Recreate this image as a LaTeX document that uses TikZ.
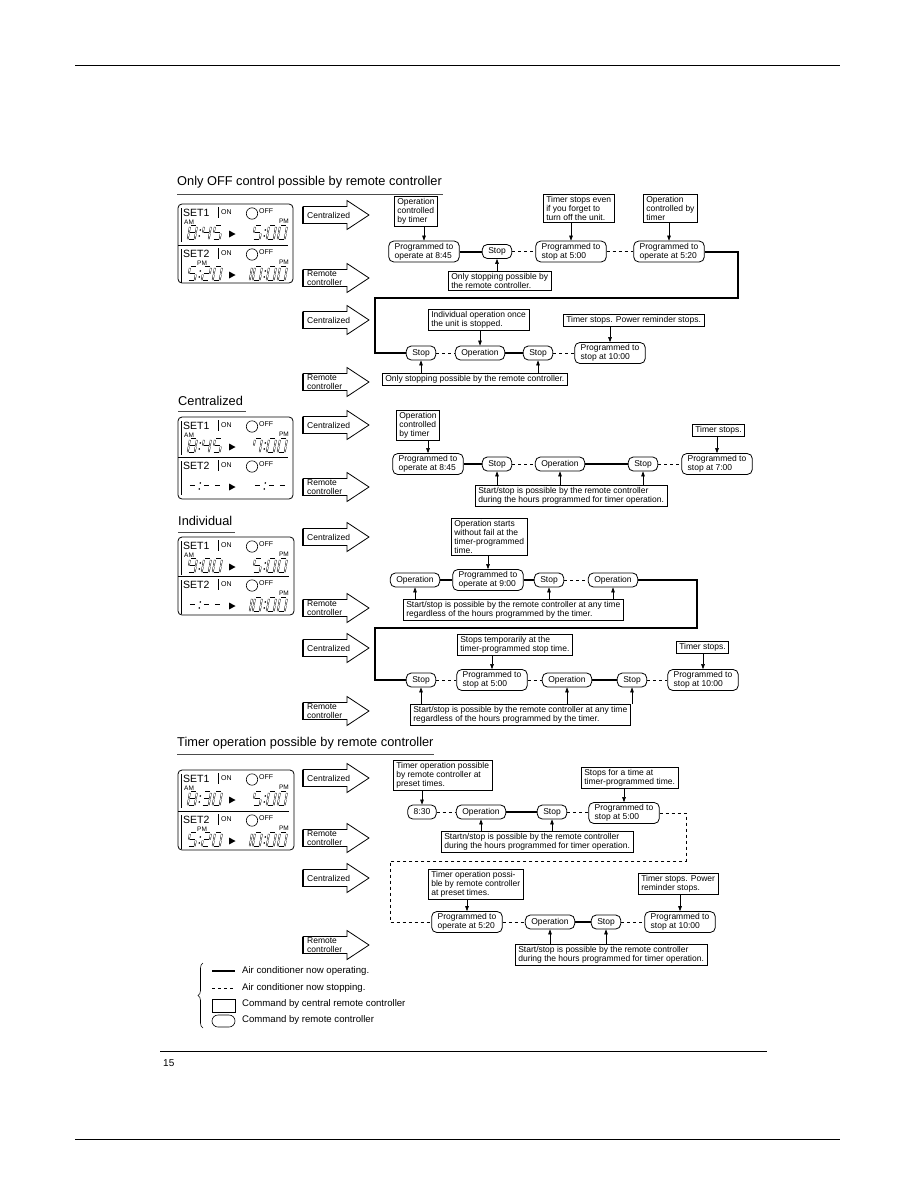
\documentclass[tikz,border=0pt]{standalone}
\usepackage{fontspec}
\setmainfont{Liberation Sans}
\usetikzlibrary{arrows.meta,calc,decorations.pathreplacing}
\tikzset{
  note/.style={draw,line width=0.6pt,rectangle,align=left,font=\fontsize{8.5}{9}\selectfont,inner xsep=3pt,inner ysep=1.8pt,anchor=north west},
  rbox/.style={draw,line width=0.8pt,rounded corners=5pt,align=left,font=\fontsize{8.5}{9}\selectfont,inner xsep=6pt,inner ysep=2pt,minimum height=14pt},
  run/.style={line width=2pt},
  idle/.style={line width=0.8pt,dash pattern=on 3pt off 3pt},
  arr/.style={-{Triangle[length=5pt,width=3.6pt]},line width=0.6pt},
  ttl/.style={font=\fontsize{12.8}{14}\selectfont,anchor=west,inner sep=0pt},
  rule/.style={line width=0.8pt,black!70},
  blk/.style={line width=0.8pt,line join=miter},
  blktxt/.style={font=\fontsize{8.5}{8.5}\selectfont,align=left,anchor=west,inner sep=1pt},
  lcdframe/.style={line width=0.8pt,rounded corners=4pt},
  lcdseg/.style={double=white,double distance=0.8pt,line width=0.45pt},
  lcdbig/.style={font=\fontsize{10.5}{11}\selectfont,inner sep=0pt,anchor=west},
  lcdsmall/.style={font=\fontsize{7}{7}\selectfont,inner sep=0pt,anchor=west},
  lcdtiny/.style={font=\fontsize{6.5}{6.5}\selectfont,inner sep=0pt},
  lgd/.style={font=\fontsize{9.6}{10}\selectfont,anchor=west,inner sep=0pt},
}
% seven segment patterns
\def\sgzero{a,b,c,d,e,f}
\def\sgone{b,c}
\def\sgtwo{a,b,g,e,d}
\def\sgthree{a,b,g,c,d}
\def\sgfour{f,g,b,c}
\def\sgfive{a,f,g,c,d}
\def\sgseven{f,a,b,c}
\def\sgeight{a,b,c,d,e,f,g}
\def\sgnine{a,b,c,d,f,g}
\def\sgdash{g}
\newcommand\lcddigit[2]{%
  \begin{scope}[shift={#1},xslant=0.17]
    \coordinate (sga1) at (1,0);   \coordinate (sga2) at (6,0);
    \coordinate (sgb1) at (7,0.9); \coordinate (sgb2) at (7,6.4);
    \coordinate (sgc1) at (7,7.6); \coordinate (sgc2) at (7,13.1);
    \coordinate (sgd1) at (1,14);  \coordinate (sgd2) at (6,14);
    \coordinate (sge1) at (0,7.6); \coordinate (sge2) at (0,13.1);
    \coordinate (sgf1) at (0,0.9); \coordinate (sgf2) at (0,6.4);
    \coordinate (sgg1) at (1,7);   \coordinate (sgg2) at (6,7);
    \foreach \s in #2 {\draw[lcdseg] (sg\s1) -- (sg\s2);}
  \end{scope}}
\newcommand\lcdcolon[1]{%
  \begin{scope}[shift={#1},xslant=0.17]
    \fill (1,4) circle (0.9) (1,10) circle (0.9);
  \end{scope}}
\newcommand\lcdtime[5]{%
  \lcddigit{(#1,#2)}{#3}\lcdcolon{(#1+10,#2)}%
  \lcddigit{(#1+14,#2)}{#4}\lcddigit{(#1+25,#2)}{#5}}
\newcommand\lcdrow[3]{%
  \node[lcdbig] (#3) at (183,#1+9) {#2};
  \draw[line width=0.6pt] (218,#1+3) -- (218,#1+14);
  \node[lcdsmall] (#3on) at (221,#1+8) {ON};
  \draw[line width=0.6pt] (252,#1+9.5) circle (5.7);
  \node[lcdsmall] (#3off) at (259,#1+7.5) {OFF};
  \draw[line width=0.7pt] (181,#1+4) -- (181,#1+38);
  \fill (229,#1+26.5) -- (235.5,#1+30) -- (229,#1+33.5) -- cycle;}

\begin{document}
\begin{tikzpicture}[x=1pt,y=-1pt]
\useasboundingbox (0,0) rectangle (914,1191);
\draw[line width=0.6pt] (75,65) -- (840,65);
\draw[line width=0.6pt] (75,1139) -- (840,1139);
\draw[line width=0.6pt] (160,1051) -- (767,1051);
\node[anchor=west,font=\fontsize{10}{10}\selectfont,inner sep=0pt] (pgno) at (163,1063) {15};

% block arrows
\foreach \y/\t [count=\k] in {215/Centralized,278/{Remote\\controller},320/Centralized,382/{Remote\\controller},
  425/Centralized,487/{Remote\\controller},537/Centralized,608/{Remote\\controller},648/Centralized,711/{Remote\\controller},
  778/Centralized,838/{Remote\\controller},878/Centralized,945/{Remote\\controller}}{
  \draw[blk] (303,\y-8.5) -- (347,\y-8.5) -- (347,\y-14.5) -- (369,\y) -- (347,\y+14.5) -- (347,\y+8.5) -- (303,\y+8.5) -- cycle;
  \draw[line width=1.6pt] (303,\y-8.5) -- (303,\y+8.5) -- (347,\y+8.5);
  \node[blktxt] (blk\k) at (306,\y) {\t};
}

% ---- Only OFF control
\node[ttl] (ttl1) at (177,182) {Only OFF control possible by remote controller};
\draw[rule] (177,194) -- (443,194);
\draw[lcdframe] (178,204) rectangle (293,283);
\draw[line width=0.7pt] (178,245) -- (288,245);
\lcdrow{204}{SET1}{pa1}
\node[lcdtiny,anchor=west] (pa1am) at (184,222) {AM};
\node[lcdtiny,anchor=east] (pa1pm) at (289,221) {PM};
\lcdtime{190}{226}{\sgeight}{\sgfour}{\sgfive}
\lcdtime{255}{226}{\sgfive}{\sgzero}{\sgzero}
\lcdrow{245}{SET2}{pa2}
\node[lcdtiny,anchor=west] (pa2am) at (197,263) {PM};
\node[lcdtiny,anchor=east] (pa2pm) at (289,262) {PM};
\lcdtime{190}{267}{\sgfive}{\sgtwo}{\sgzero}
\lcddigit{(245,267)}{\sgone}
\lcdtime{255}{267}{\sgzero}{\sgzero}{\sgzero}

\node[rbox] (p11) at (424,251.5) {Programmed to\\operate at 8:45};
\node[rbox] (s11) at (497,251.5) {Stop};
\node[rbox] (p12) at (571,251.5) {Programmed to\\stop at 5:00};
\node[rbox] (p13) at (669,251.5) {Programmed to\\operate at 5:20};
\node[note] (n11) at (394,196) {Operation\\controlled\\by timer};
\node[note] (n12) at (543,194) {Timer stops even\\if you forget to\\turn off the unit.};
\node[note] (n13) at (643,194) {Operation\\controlled by\\timer};
\node[note] (n14) at (448,271) {Only stopping possible by\\the remote controller.};
\draw[run] (p11) -- (s11);
\draw[idle] (s11) -- (p12);
\draw[idle] (p12) -- (p13);
\draw[arr] (n11.south -| p11) -- (p11);
\draw[arr] (n12.south -| p12) -- (p12);
\draw[arr] (n13.south -| p13) -- (p13);
\draw[arr] (n14.north -| s11) -- (s11);

\node[rbox] (s21) at (421,353) {Stop};
\node[rbox] (o21) at (480,353) {Operation};
\node[rbox] (s22) at (538,353) {Stop};
\node[rbox] (p21) at (610,353) {Programmed to\\stop at 10:00};
\node[note] (n21) at (428,309) {Individual operation once\\the unit is stopped.};
\node[note] (n22) at (563,314) {Timer stops. Power reminder stops.};
\node[note] (n23) at (382,373) {Only stopping possible by the remote controller.};
\coordinate (lp1a) at (738,298);
\coordinate (lp1b) at (375,298);
\draw[run] (p13) -| (lp1a) -- (lp1b) |- (s21);
\draw[idle] (s21) -- (o21);
\draw[run] (o21) -- (s22);
\draw[idle] (s22) -- (p21);
\draw[arr] (n21.south -| o21) -- (o21);
\draw[arr] (n22.south -| p21) -- (p21);
\draw[arr] (n23.north -| s21) -- (s21);
\draw[arr] (n23.north -| s22) -- (s22);

% ---- Centralized
\node[ttl] (ttl2) at (178,401) {Centralized};
\draw[rule] (178,411) -- (246,411);
\draw[lcdframe] (178,417) rectangle (293,499);
\draw[line width=0.7pt] (178,457) -- (288,457);
\lcdrow{417}{SET1}{pb1}
\node[lcdtiny,anchor=west] (pb1am) at (184,435) {AM};
\node[lcdtiny,anchor=east] (pb1pm) at (289,434) {PM};
\lcdtime{190}{439}{\sgeight}{\sgfour}{\sgfive}
\lcdtime{255}{439}{\sgseven}{\sgzero}{\sgzero}
\lcdrow{457}{SET2}{pb2}
\lcdtime{190}{479}{\sgdash}{\sgdash}{\sgdash}
\lcdtime{255}{479}{\sgdash}{\sgdash}{\sgdash}

\node[rbox] (p31) at (428,464) {Programmed to\\operate at 8:45};
\node[rbox] (s31) at (497,464) {Stop};
\node[rbox] (o31) at (560,464) {Operation};
\node[rbox] (s32) at (643,464) {Stop};
\node[rbox] (p32) at (717,464) {Programmed to\\stop at 7:00};
\node[note] (n31) at (396,410) {Operation\\controlled\\by timer};
\node[note] (n32) at (692,424) {Timer stops.};
\node[note] (n33) at (475,485) {Start/stop is possible by the remote controller\\during the hours programmed for timer operation.};
\draw[run] (p31) -- (s31);
\draw[idle] (s31) -- (o31);
\draw[run] (o31) -- (s32);
\draw[idle] (s32) -- (p32);
\draw[arr] (n31.south -| p31) -- (p31);
\draw[arr] (n32.south -| p32) -- (p32);
\foreach \t in {s31,o31,s32}{\draw[arr] (n33.north -| \t) -- (\t);}

% ---- Individual
\node[ttl] (ttl3) at (178,521) {Individual};
\draw[rule] (178,532) -- (235,532);
\draw[lcdframe] (178,537) rectangle (294,615);
\draw[line width=0.7pt] (178,576) -- (289,576);
\lcdrow{537}{SET1}{pc1}
\node[lcdtiny,anchor=west] (pc1am) at (184,555) {AM};
\node[lcdtiny,anchor=east] (pc1pm) at (289,554) {PM};
\lcdtime{190}{559}{\sgnine}{\sgzero}{\sgzero}
\lcdtime{255}{559}{\sgfive}{\sgzero}{\sgzero}
\lcdrow{576}{SET2}{pc2}
\node[lcdtiny,anchor=east] (pc2pm) at (289,593) {PM};
\lcdtime{190}{598}{\sgdash}{\sgdash}{\sgdash}
\lcddigit{(245,598)}{\sgone}
\lcdtime{255}{598}{\sgzero}{\sgzero}{\sgzero}

\node[rbox] (o41) at (415,580) {Operation};
\node[rbox] (p41) at (488,580) {Programmed to\\operate at 9:00};
\node[rbox] (s41) at (549,580) {Stop};
\node[rbox] (o42) at (613,580) {Operation};
\node[note] (n41) at (451,518) {Operation starts\\without fail at the\\timer-programmed\\time.};
\node[note] (n42) at (403,599) {Start/stop is possible by the remote controller at any time\\regardless of the hours programmed by the timer.};
\draw[run] (o41) -- (p41);
\draw[run] (p41) -- (s41);
\draw[idle] (s41) -- (o42);
\draw[arr] (n41.south -| p41) -- (p41);
\foreach \t in {o41,s41,o42}{\draw[arr] (n42.north -| \t) -- (\t);}

\node[rbox] (s51) at (421,680) {Stop};
\node[rbox] (p51) at (492,680) {Programmed to\\stop at 5:00};
\node[rbox] (o51) at (567,680) {Operation};
\node[rbox] (s52) at (632,680) {Stop};
\node[rbox] (p52) at (703,680) {Programmed to\\stop at 10:00};
\node[note] (n51) at (457,634) {Stops temporarily at the\\timer-programmed stop time.};
\node[note] (n52) at (676,641) {Timer stops.};
\node[note] (n53) at (410,704) {Start/stop is possible by the remote controller at any time\\regardless of the hours programmed by the timer.};
\coordinate (lp3a) at (697,628);
\coordinate (lp3b) at (375,628);
\draw[run] (o42) -| (lp3a) -- (lp3b) |- (s51);
\draw[idle] (s51) -- (p51);
\draw[idle] (p51) -- (o51);
\draw[run] (o51) -- (s52);
\draw[idle] (s52) -- (p52);
\draw[arr] (n51.south -| p51) -- (p51);
\draw[arr] (n52.south -| p52) -- (p52);
\foreach \t in {s51,o51,s52}{\draw[arr] (n53.north -| \t) -- (\t);}

% ---- Timer operation
\node[ttl] (ttl4) at (177,743) {Timer operation possible by remote controller};
\draw[rule] (177,754) -- (434,754);
\draw[lcdframe] (178,770) rectangle (294,850);
\draw[line width=0.7pt] (178,811) -- (289,811);
\lcdrow{770}{SET1}{pd1}
\node[lcdtiny,anchor=west] (pd1am) at (184,788) {AM};
\node[lcdtiny,anchor=east] (pd1pm) at (289,787) {PM};
\lcdtime{190}{792}{\sgeight}{\sgthree}{\sgzero}
\lcdtime{255}{792}{\sgfive}{\sgzero}{\sgzero}
\lcdrow{811}{SET2}{pd2}
\node[lcdtiny,anchor=west] (pd2am) at (197,829) {PM};
\node[lcdtiny,anchor=east] (pd2pm) at (289,828) {PM};
\lcdtime{190}{833}{\sgfive}{\sgtwo}{\sgzero}
\lcddigit{(245,833)}{\sgone}
\lcdtime{255}{833}{\sgzero}{\sgzero}{\sgzero}

\node[rbox] (t61) at (422,812) {8:30};
\node[rbox] (o61) at (481,812) {Operation};
\node[rbox] (s61) at (552,812) {Stop};
\node[rbox] (p61) at (624,813) {Programmed to\\stop at 5:00};
\node[note] (n61) at (393,760) {Timer operation possible\\by remote controller at\\preset times.};
\node[note] (n62) at (581,767) {Stops for a time at\\timer-programmed time.};
\node[note] (n63) at (441,831) {Startn/stop is possible by the remote controller\\during the hours programmed for timer operation.};
\draw[idle] (t61) -- (o61);
\draw[run] (o61) -- (s61);
\draw[idle] (s61) -- (s61 -| p61.west);
\draw[arr] (n61.south -| t61) -- (t61);
\draw[arr] (n62.south -| p61) -- (p61);
\foreach \t in {o61,s61}{\draw[arr] (n63.north -| \t) -- (\t);}

\node[rbox] (p71) at (467,922) {Programmed to\\operate at 5:20};
\node[rbox] (o71) at (550,922) {Operation};
\node[rbox] (s71) at (606,922) {Stop};
\node[rbox] (p72) at (680,922) {Programmed to\\stop at 10:00};
\node[note] (n71) at (428,869) {Timer operation possi-\\ble by remote controller\\at preset times.};
\node[note] (n72) at (638,873) {Timer stops. Power\\reminder stops.};
\node[note] (n73) at (515,944) {Start/stop is possible by the remote controller\\during the hours programmed for timer operation.};
\coordinate (lp4a) at (686,861);
\coordinate (lp4b) at (390,861);
\draw[idle] (p61) -| (lp4a) -- (lp4b) |- (p71);
\draw[idle] (p71) -- (o71);
\draw[run] (o71) -- (s71);
\draw[idle] (s71) -- (p72);
\draw[arr] (n71.south -| p71) -- (p71);
\draw[arr] (n72.south -| p72) -- (p72);
\foreach \t in {o71,s71}{\draw[arr] (n73.north -| \t) -- (\t);}

% legend
\draw[decorate,decoration={brace,amplitude=5pt},line width=0.6pt] (203,1028) -- (203,963);
\draw[line width=1.5pt] (212,971) -- (235,971);
\draw[idle] (212,988) -- (235,988);
\draw[line width=0.6pt] (212,999) rectangle (235,1012);
\draw[line width=0.6pt,rounded corners=6pt] (212,1015) rectangle (235,1027);
\node[lgd] (lg1) at (242,971) {Air conditioner now operating.};
\node[lgd] (lg2) at (242,988) {Air conditioner now stopping.};
\node[lgd] (lg3) at (242,1004) {Command by central remote controller};
\node[lgd] (lg4) at (242,1020) {Command by remote controller};
\end{tikzpicture}
\end{document}
